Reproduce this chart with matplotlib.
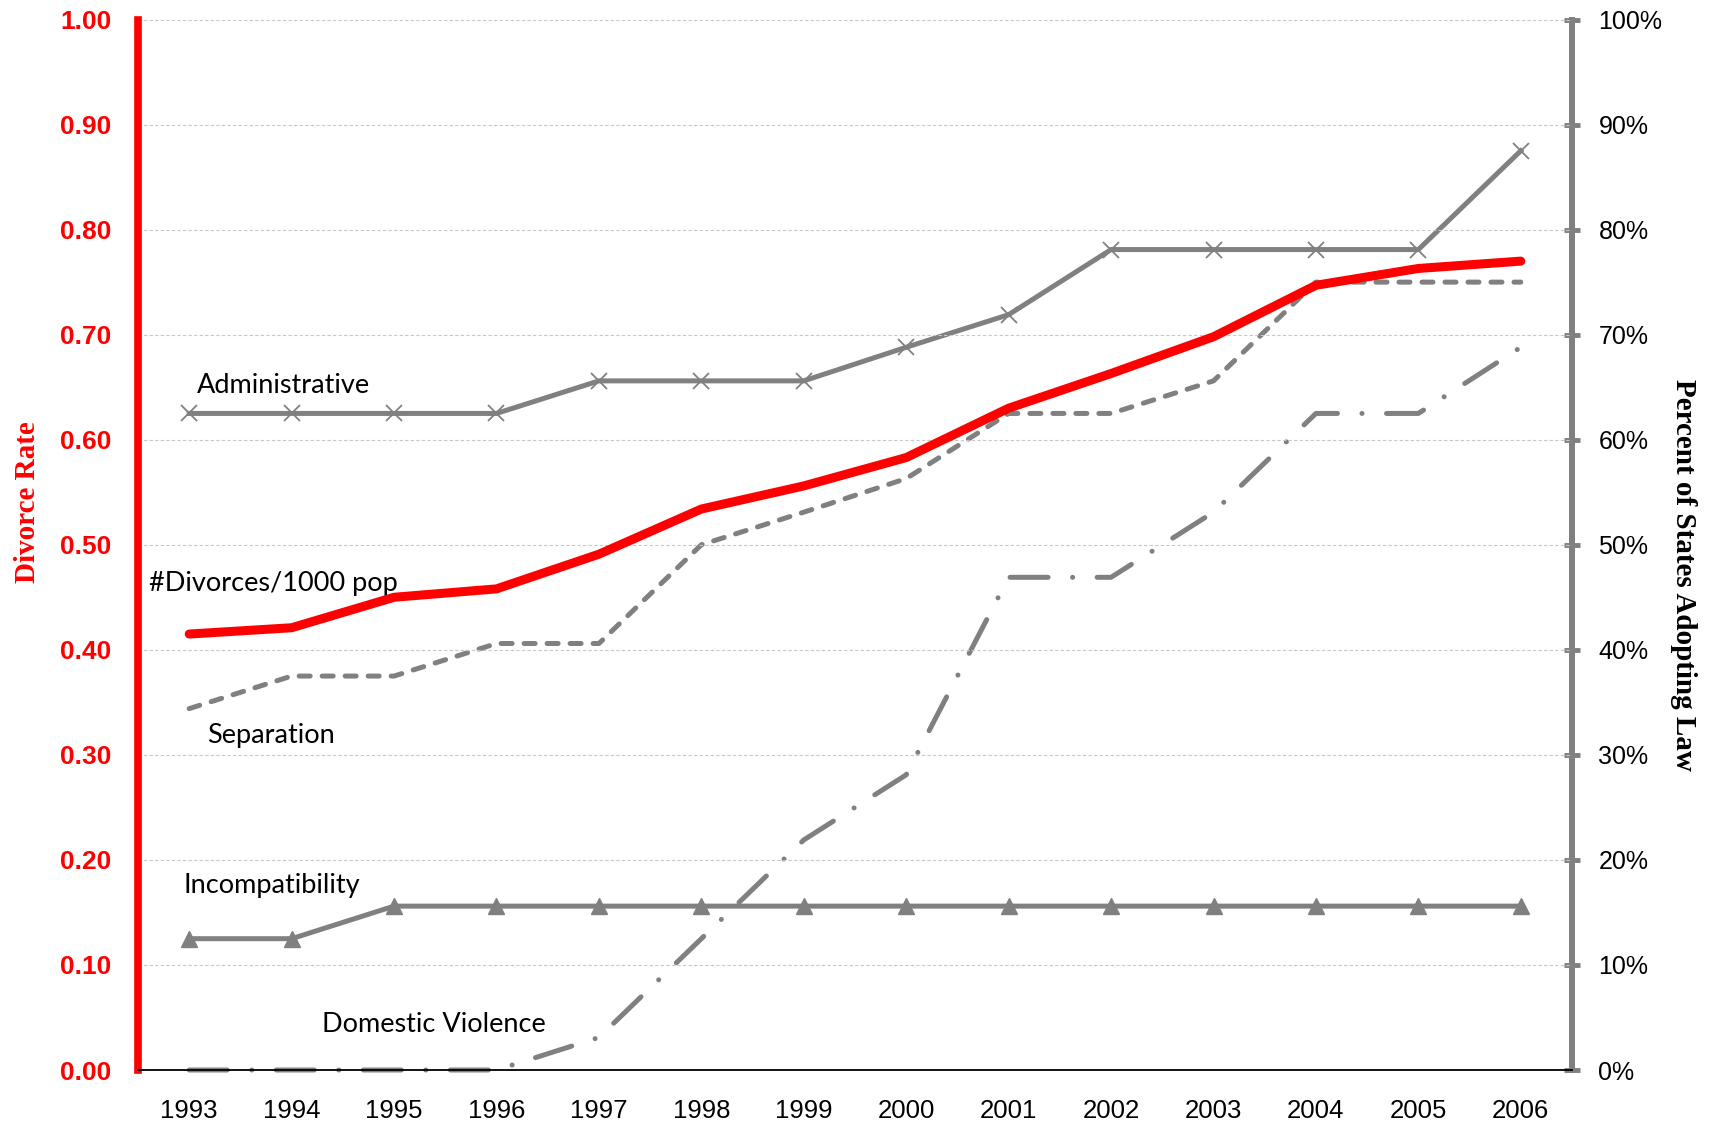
import matplotlib
matplotlib.use('Agg')
import matplotlib.pyplot as plt
from matplotlib.ticker import FixedLocator

years = ['1993', '1994', '1995', '1996', '1997', '1998', '1999',
         '2000', '2001', '2002', '2003', '2004', '2005', '2006']

# divorces per 1000 population (left axis)
divorce_rate = [0.415, 0.421, 0.450, 0.458, 0.491, 0.534, 0.556,
                0.583, 0.630, 0.663, 0.698, 0.747, 0.763, 0.770]

# percent of states adopting each law (right axis)
administrative = [62.5, 62.5, 62.5, 62.5, 65.6, 65.6, 65.6,
                  68.8, 71.9, 78.1, 78.1, 78.1, 78.1, 87.5]
separation = [34.4, 37.5, 37.5, 40.6, 40.6, 50.0, 53.1,
              56.3, 62.5, 62.5, 65.6, 75.0, 75.0, 75.0]
incompatibility = [12.5, 12.5, 15.6, 15.6, 15.6, 15.6, 15.6,
                   15.6, 15.6, 15.6, 15.6, 15.6, 15.6, 15.6]
domestic_violence = [0.0, 0.0, 0.0, 0.0, 3.1, 12.5, 21.9,
                     28.1, 46.9, 46.9, 53.1, 62.5, 62.5, 68.8]

left_ticks = [0.0, 0.1, 0.2, 0.3, 0.4, 0.5, 0.6, 0.7, 0.8, 0.9, 1.0]
right_ticks = [0, 10, 20, 30, 40, 50, 60, 70, 80, 90, 100]

red = '#ff0000'
grey = '#808080'
x = list(range(len(years)))

fig = plt.figure(figsize=(17.11, 11.27), dpi=100)
ax = fig.add_axes([138/1711, 1 - 1070/1127, (1572-138)/1711, (1070-19.5)/1127])
ax2 = ax.twinx()

# grey series on the percent axis
ax2.plot(x, administrative, color=grey, lw=3.6, marker='x', ms=11, mew=1.3,
         solid_joinstyle='miter', zorder=3)
ax2.plot(x, separation, color=grey, lw=3.6, dashes=(2.2, 2.4),
         dash_capstyle='round', zorder=3)
ax2.plot(x, incompatibility, color=grey, lw=3.6, marker='^', ms=11, zorder=3)
ax2.plot(x, domestic_violence, color=grey, lw=3.6,
         dashes=(7.6, 4.9, 0.01, 4.9), dash_capstyle='round', zorder=3,
         clip_on=False)
ax2.set_ylim(0, 100)
ax2.yaxis.set_major_locator(FixedLocator(right_ticks))
ax2.set_yticklabels([f'{t}%' for t in right_ticks], fontsize=18,
                    family='Liberation Sans')
ax2.tick_params(axis='y', direction='inout', length=12, width=3.5,
                color=grey, pad=13)

# red series on the rate axis, drawn on top
ax.set_zorder(ax2.get_zorder() + 1)
ax.patch.set_visible(False)
ax.plot(x, divorce_rate, color=red, lw=6.5, solid_capstyle='round', zorder=4)
ax.set_ylim(0, 1.0)
ax.set_xlim(-0.5, len(years) - 0.5)
ax.yaxis.set_major_locator(FixedLocator(left_ticks))
ax.set_yticklabels([f'{t:.2f}' for t in left_ticks], fontsize=19,
                   fontweight='bold', color=red, family='Liberation Sans')
ax.tick_params(axis='y', length=0, pad=19)
ax.set_xticks(x)
ax.set_xticklabels(years, fontsize=18.5, family='Liberation Sans')
ax.tick_params(axis='x', length=0, pad=21)
ax.grid(axis='y', color='#c8c8c8', lw=0.8, ls=(0, (3, 2)))

ax.spines['top'].set_visible(False)
ax2.spines['top'].set_visible(False)
ax.spines['right'].set_visible(False)
ax2.spines['left'].set_visible(False)
ax2.spines['bottom'].set_visible(False)
ax.spines['left'].set_color(red)
ax.spines['left'].set_linewidth(5.5)
ax2.spines['right'].set_color(grey)
ax2.spines['right'].set_linewidth(4.3)
ax.spines['bottom'].set_linewidth(1.3)

ax.set_ylabel('Divorce Rate', fontsize=21, fontweight='bold', color=red,
              family='Liberation Serif', va='center')
ax.yaxis.set_label_coords((27-138)/1434, (1070-502)/1050.5)
ax2.set_ylabel('Percent of States Adopting Law', fontsize=21,
               fontweight='bold', family='Liberation Serif', rotation=-90,
               va='center')
ax2.yaxis.set_label_coords((1683-138)/1434, (1070-575)/1050.5)

# series labels
lab = dict(fontsize=19.5, family='Lato', ha='left', va='center', color='black')
ax.text(0.08, 0.652, 'Administrative', **lab)
ax.text(-0.39, 0.463, '#Divorces/1000 pop', **lab)
ax.text(0.17, 0.318, 'Separation', **lab)
ax.text(-0.06, 0.176, 'Incompatibility', **lab)
ax.text(1.30, 0.043, 'Domestic Violence', **lab)

plt.savefig('out.png', dpi=100)
